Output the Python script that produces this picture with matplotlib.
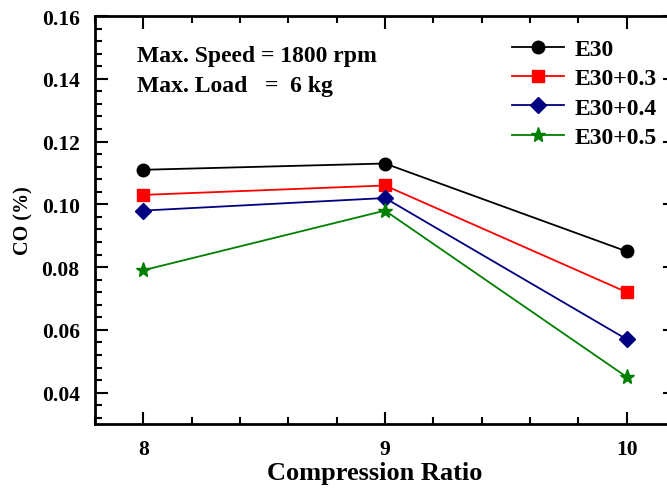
import numpy as np
import matplotlib
matplotlib.use('Agg')
import matplotlib.pyplot as plt
from matplotlib.ticker import MultipleLocator

# compression ratio vs CO (%)
ratio = [8, 9, 10]
co_e30 = [0.111, 0.113, 0.085]
co_e30_03 = [0.103, 0.106, 0.072]
co_e30_04 = [0.098, 0.102, 0.057]
co_e30_05 = [0.079, 0.098, 0.045]

labels = ['E30', 'E30+0.3', 'E30+0.4', 'E30+0.5']
colors = ['black', 'red', '#000080', 'green']
markers = ['o', 's', 'D', '*']
msizes = [9, 8, 8, 11]

plt.rcParams['font.family'] = ['Liberation Serif', 'DejaVu Serif']
plt.rcParams['font.weight'] = 'bold'

fig = plt.figure(figsize=(6.67, 4.89), dpi=100)
ax = fig.add_axes([95 / 667, 1 - 425 / 489, 580 / 667, 408 / 489])

series = [co_e30, co_e30_03, co_e30_04, co_e30_05]
for s, lab, c, m, ms in zip(series, labels, colors, markers, msizes):
    ax.plot(ratio, s, color=c, marker=m, markersize=ms, lw=1.3, label=lab)

ax.set_xlim(7.8, 10.2)
ax.set_ylim(0.03, 0.16)
ax.xaxis.set_major_locator(MultipleLocator(1))
ax.xaxis.set_minor_locator(MultipleLocator(0.2))
ax.yaxis.set_major_locator(MultipleLocator(0.02))
ax.yaxis.set_minor_locator(MultipleLocator(0.004))
ax.yaxis.set_major_formatter(plt.FuncFormatter(lambda v, p: f'{v:.2f}'))

ax.tick_params(which='both', direction='in', top=True, right=True, width=1.5)
ax.tick_params(which='major', length=9, labelsize=15.5, pad=11)
ax.tick_params(which='minor', length=5)
for sp in ax.spines.values():
    sp.set_linewidth(2)

ax.set_xlabel('Compression Ratio', fontsize=19, fontweight='bold')
ax.xaxis.set_label_coords((375 - 95) / 580, -(462 - 425) / 408)
ax.set_ylabel('CO (%)', fontsize=14.5, fontweight='bold')
ax.yaxis.set_label_coords(-(95 - 33) / 580, 0.5)

ax.text(0.072, 0.903, 'Max. Speed = 1800 rpm', transform=ax.transAxes,
        fontsize=17, fontweight='bold', va='center')
ax.text(0.072, 0.830, 'Max. Load   =  6 kg', transform=ax.transAxes,
        fontsize=17, fontweight='bold', va='center')

ax.legend(loc='upper right', bbox_to_anchor=(1.006, 0.997), frameon=False,
          prop={'size': 17, 'weight': 'bold'}, handlelength=2.2,
          labelspacing=0.33, handletextpad=0.45)

fig.savefig('out.png', dpi=100)
